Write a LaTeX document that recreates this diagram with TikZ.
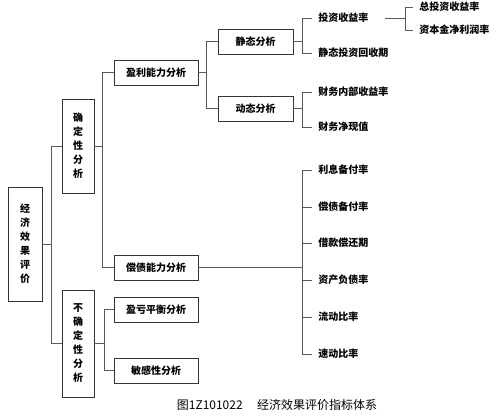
\documentclass[tikz,border=0pt]{standalone}
\usepackage{fontspec}
\newfontfamily\cjk{Noto Sans CJK SC}
\begin{document}
\begin{tikzpicture}[x=0.75pt,y=-0.75pt,
  box/.style={draw=black!80,line width=0.7pt,inner sep=0pt,align=center,
    font=\cjk\bfseries\fontsize{7.5pt}{10.5pt}\selectfont},
  hbox/.style={box,minimum width=63pt,minimum height=18.75pt},
  sbox/.style={box,minimum width=56.25pt,minimum height=18.75pt},
  leaf/.style={anchor=west,inner xsep=4.5pt,inner ysep=1pt,
    font=\cjk\bfseries\fontsize{7.5pt}{9pt}\selectfont},
  conn/.style={draw=black!65,line width=0.6pt}]
\useasboundingbox (0,0) rectangle (500,418);
% boxes
\node[box,minimum width=25.5pt,minimum height=85.5pt] (root) at (25,244) {经\\济\\效\\果\\评\\价};
\node[box,minimum width=24pt,minimum height=70.5pt] (qd) at (78,146) {确\\定\\性\\分\\析};
\node[box,minimum width=24pt,minimum height=80.25pt] (bqd) at (78,343.5) {不\\确\\定\\性\\分\\析};
\node[hbox] (yl) at (156,72.5) {盈利能力分析};
\node[hbox] (cz) at (156,267.5) {偿债能力分析};
\node[hbox] (yk) at (156,309.5) {盈亏平衡分析};
\node[hbox] (mg) at (156,370.5) {敏感性分析};
\node[sbox] (jt) at (255.5,41.5) {静态分析};
\node[sbox] (dt) at (255.5,108.5) {动态分析};
% leaves
\node[leaf] (tz) at (312,18) {投资收益率};
\node[leaf] (jh) at (312,53) {静态投资回收期};
\node[leaf] (zt) at (413,7) {总投资收益率};
\node[leaf] (zb) at (413,30) {资本金净利润率};
\node[leaf] (nb) at (312,92) {财务内部收益率};
\node[leaf] (jx) at (312,127) {财务净现值};
\node[leaf] (lx) at (312,170) {利息备付率};
\node[leaf] (ch) at (312,207) {偿债备付率};
\node[leaf] (jk) at (312,243) {借款偿还期};
\node[leaf] (zc) at (312,280) {资产负债率};
\node[leaf] (ld) at (312,317) {流动比率};
\node[leaf] (sd) at (312,354) {速动比率};
\coordinate (tzr) at (385,18);
% connectors
\foreach \c in {qd,bqd}{\path[conn] (root.east) -- ++(9,0) |- (\c.west);}
\foreach \c in {yl,cz}{\path[conn] (qd.east) -- ++(8,0) |- (\c.west);}
\foreach \c in {yk,mg}{\path[conn] (bqd.east) -- ++(10,0) |- (\c.west);}
\foreach \c in {jt,dt}{\path[conn] (yl.east) -- ++(8,0) |- (\c.west);}
\foreach \c in {tz,jh}{\path[conn] (jt.east) -- ++(9,0) |- (\c.west);}
\foreach \c in {nb,jx}{\path[conn] (dt.east) -- ++(9,0) |- (\c.west);}
\foreach \c in {zt,zb}{\path[conn] (tzr) -- ++(20,0) |- (\c.west);}
\foreach \c in {lx,ch,jk,zc,ld,sd}{\path[conn] (cz.east) -- ++(104,0) |- (\c.west);}
% caption
\node[font=\cjk\fontsize{9pt}{10pt}\selectfont,inner sep=0pt] (cap) at (277,405) {图1Z101022\hspace{1.2em}经济效果评价指标体系};
\end{tikzpicture}
\end{document}
